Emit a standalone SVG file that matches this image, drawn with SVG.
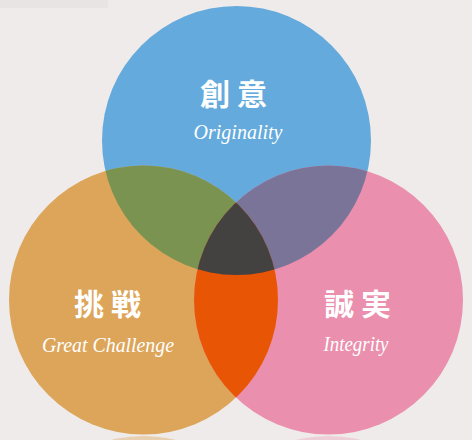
<svg xmlns="http://www.w3.org/2000/svg" width="472" height="440" viewBox="0 0 472 440">
<style>
.cjk{font-family:"Noto Sans CJK JP","Noto Sans CJK SC",sans-serif;font-weight:700;font-size:30px;fill:#ffffff;letter-spacing:7px}
.script{font-family:"Liberation Serif","DejaVu Serif",serif;font-style:italic;font-size:21px;fill:#ffffff;text-anchor:middle}
</style>
<defs>
<clipPath id="cBlue"><circle cx="236.5" cy="140.5" r="134.5"/></clipPath>
<clipPath id="cOrange"><circle cx="143.5" cy="300" r="134.5"/></clipPath>
<clipPath id="cPink"><circle cx="328.5" cy="300" r="134.5"/></clipPath>
</defs>
<rect x="0" y="0" width="472" height="440" fill="#efebea"/>
<rect x="0" y="0" width="108" height="8" fill="#e8e4e3"/>
<g id="reflections">
<circle cx="143.5" cy="570.5" r="134.5" fill="#dca55a" opacity="0.4"/>
<circle cx="328.5" cy="570.5" r="134.5" fill="#ea8fad" opacity="0.3"/>
</g>
<g id="circles">
<circle id="circle-creativity" cx="236.5" cy="140.5" r="134.5" fill="#64aadc"/>
<circle id="circle-challenge" cx="143.5" cy="300" r="134.5" fill="#dca55a"/>
<circle id="circle-integrity" cx="328.5" cy="300" r="134.5" fill="#ea8fad"/>
</g>
<g id="overlaps">
<g clip-path="url(#cBlue)"><circle cx="143.5" cy="300" r="134.5" fill="#7a9351"/></g>
<g clip-path="url(#cBlue)"><circle cx="328.5" cy="300" r="134.5" fill="#7a7498"/></g>
<g clip-path="url(#cOrange)"><circle cx="328.5" cy="300" r="134.5" fill="#e85505"/></g>
<g clip-path="url(#cBlue)"><g clip-path="url(#cOrange)"><circle cx="328.5" cy="300" r="134.5" fill="#434241"/></g></g>
</g>
<g id="node-creativity">
<text class="cjk" x="200" y="105">創意</text>
<text class="script" x="238" y="139" textLength="89" lengthAdjust="spacingAndGlyphs">Originality</text>
</g>
<g id="node-challenge">
<text class="cjk" x="74" y="315">挑戦</text>
<text class="script" x="108" y="352" textLength="132" lengthAdjust="spacingAndGlyphs">Great Challenge</text>
</g>
<g id="node-integrity">
<text class="cjk" x="324" y="315">誠実</text>
<text class="script" x="356" y="351" textLength="65" lengthAdjust="spacingAndGlyphs">Integrity</text>
</g>
</svg>
